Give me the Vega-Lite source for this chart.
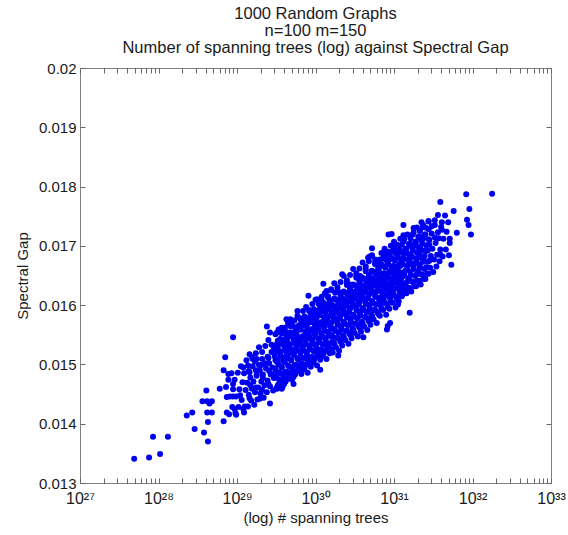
{
"$schema": "https://vega.github.io/schema/vega-lite/v6.json",
"width": 471, "height": 415,
"autosize": {"type": "none"},
"padding": {"left": 80, "top": 68, "right": 17, "bottom": 52},
"background": "white",
"title": {"text": ["1000 Random Graphs", "n=100 m=150", "Number of spanning trees (log) against Spectral Gap"], "font": "Liberation Sans", "fontSize": 16.5, "fontWeight": "normal", "color": "#1a1a1a", "lineHeight": 17, "offset": 5, "anchor": "middle"},
"config": {
  "view": {"stroke": "#808080", "strokeWidth": 1},
  "axis": {"grid": false, "domain": false, "tickColor": "#666666", "tickSize": -5, "labelFont": "Liberation Sans", "labelFontSize": 15, "labelColor": "#1a1a1a", "titleFont": "Liberation Sans", "titleFontSize": 15, "titleFontWeight": "normal", "titleColor": "#1a1a1a", "labelOverlap": false, "labelFlush": false}
},
"data": {"values": [
{"logT":27.69,"gap":0.01341},{"logT":27.88,"gap":0.01343},{"logT":28.02,"gap":0.01349},{"logT":27.93,"gap":0.01378},{"logT":28.12,"gap":0.01378},{"logT":28.46,"gap":0.01391},{"logT":28.63,"gap":0.0137},{"logT":28.58,"gap":0.01385},{"logT":28.63,"gap":0.01403},{"logT":28.36,"gap":0.01414},{"logT":28.43,"gap":0.01419},{"logT":28.62,"gap":0.01419},{"logT":28.68,"gap":0.01419},{"logT":28.83,"gap":0.01404},{"logT":28.87,"gap":0.01419},{"logT":28.56,"gap":0.01438},{"logT":28.62,"gap":0.01438},{"logT":28.68,"gap":0.01438},{"logT":28.65,"gap":0.01434},{"logT":28.61,"gap":0.01456},{"logT":28.78,"gap":0.01459},{"logT":28.86,"gap":0.01462},{"logT":28.87,"gap":0.01445},{"logT":28.83,"gap":0.0149},{"logT":28.89,"gap":0.01484},{"logT":28.95,"gap":0.01546},{"logT":28.85,"gap":0.01512},{"logT":28.99,"gap":0.01415},{"logT":29.09,"gap":0.01419},{"logT":29.42,"gap":0.01434},{"logT":29.38,"gap":0.01564},{"logT":29.91,"gap":0.01616},{"logT":29.42,"gap":0.01554},{"logT":29.51,"gap":0.01554},{"logT":29.61,"gap":0.01557},{"logT":29.77,"gap":0.0159},{"logT":29.68,"gap":0.01576},{"logT":29.7,"gap":0.01568},{"logT":29.19,"gap":0.01512},{"logT":29.25,"gap":0.01509},{"logT":29.08,"gap":0.01495},{"logT":29.14,"gap":0.01498},{"logT":28.95,"gap":0.01467},{"logT":29.04,"gap":0.01448},{"logT":28.95,"gap":0.01446},{"logT":28.97,"gap":0.01425},{"logT":29.08,"gap":0.01425},{"logT":29.29,"gap":0.01442},{"logT":29.51,"gap":0.01459},{"logT":29.57,"gap":0.01459},{"logT":29.72,"gap":0.01467},{"logT":30.34,"gap":0.01652},{"logT":30.1,"gap":0.01636},{"logT":30.14,"gap":0.01624},{"logT":30.02,"gap":0.0161},{"logT":30.08,"gap":0.01607},{"logT":30.25,"gap":0.01621},{"logT":30.31,"gap":0.01621},{"logT":30.44,"gap":0.01635},{"logT":30.57,"gap":0.01649},{"logT":30.69,"gap":0.01682},{"logT":30.82,"gap":0.01677},{"logT":29.63,"gap":0.01576},{"logT":29.68,"gap":0.01565},{"logT":29.57,"gap":0.01562},{"logT":30.91,"gap":0.01559},{"logT":30.61,"gap":0.01546},{"logT":30.29,"gap":0.01515},{"logT":30.06,"gap":0.01491},{"logT":31.59,"gap":0.01774},{"logT":31.76,"gap":0.01759},{"logT":31.93,"gap":0.01744},{"logT":31.12,"gap":0.01735},{"logT":31.35,"gap":0.0174},{"logT":31.44,"gap":0.01742},{"logT":31.52,"gap":0.01735},{"logT":31.61,"gap":0.01727},{"logT":31.25,"gap":0.0173},{"logT":30.93,"gap":0.01719},{"logT":30.97,"gap":0.0172},{"logT":30.72,"gap":0.01696},{"logT":30.99,"gap":0.01702},{"logT":31.71,"gap":0.01705},{"logT":31.8,"gap":0.01722},{"logT":31.73,"gap":0.01668},{"logT":30.67,"gap":0.0168},{"logT":30.89,"gap":0.01688},{"logT":31.59,"gap":0.01685},{"logT":31.08,"gap":0.01624},{"logT":31.2,"gap":0.01587},{"logT":31.05,"gap":0.01601},{"logT":32.25,"gap":0.01788},{"logT":31.92,"gap":0.01787},{"logT":31.96,"gap":0.01762},{"logT":31.95,"gap":0.01735},{"logT":31.98,"gap":0.01719},{"logT":30.92,"gap":0.01565},{"logT":30.95,"gap":0.0157},
{"logT":28.9,"gap":0.01416},{"logT":28.91,"gap":0.01446},{"logT":28.89,"gap":0.01474},
{"logT":28.94,"gap":0.01428},{"logT":28.95,"gap":0.01458},{"logT":28.93,"gap":0.01485},
{"logT":28.98,"gap":0.01418},{"logT":28.99,"gap":0.01446},{"logT":28.97,"gap":0.01474},
{"logT":29.02,"gap":0.01428},{"logT":29.03,"gap":0.01458},{"logT":29.01,"gap":0.01486},
{"logT":29.06,"gap":0.0144},{"logT":29.07,"gap":0.0147},{"logT":29.05,"gap":0.01497},
{"logT":29.1,"gap":0.01429},{"logT":29.11,"gap":0.01457},{"logT":29.09,"gap":0.01485},
{"logT":29.14,"gap":0.01429},{"logT":29.15,"gap":0.01449},{"logT":29.13,"gap":0.01469},{"logT":29.16,"gap":0.01487},{"logT":29.12,"gap":0.01507},
{"logT":29.18,"gap":0.01439},{"logT":29.19,"gap":0.01459},{"logT":29.17,"gap":0.01478},{"logT":29.2,"gap":0.01497},{"logT":29.16,"gap":0.01517},
{"logT":29.22,"gap":0.01432},{"logT":29.23,"gap":0.01453},{"logT":29.21,"gap":0.01471},{"logT":29.24,"gap":0.0149},{"logT":29.2,"gap":0.01509},
{"logT":29.26,"gap":0.01441},{"logT":29.27,"gap":0.01461},{"logT":29.25,"gap":0.01481},{"logT":29.28,"gap":0.01499},{"logT":29.24,"gap":0.01519},
{"logT":29.3,"gap":0.01451},{"logT":29.31,"gap":0.01471},{"logT":29.29,"gap":0.0149},{"logT":29.32,"gap":0.01509},{"logT":29.28,"gap":0.01529},
{"logT":29.34,"gap":0.01444},{"logT":29.35,"gap":0.01465},{"logT":29.33,"gap":0.01483},{"logT":29.36,"gap":0.01502},{"logT":29.32,"gap":0.01521},
{"logT":29.38,"gap":0.01453},{"logT":29.39,"gap":0.01473},{"logT":29.37,"gap":0.01493},{"logT":29.4,"gap":0.01511},{"logT":29.36,"gap":0.01531},
{"logT":29.42,"gap":0.01463},{"logT":29.43,"gap":0.01483},{"logT":29.41,"gap":0.01502},{"logT":29.44,"gap":0.01521},{"logT":29.4,"gap":0.01541},
{"logT":29.46,"gap":0.01456},{"logT":29.47,"gap":0.01477},{"logT":29.45,"gap":0.01495},{"logT":29.48,"gap":0.01514},{"logT":29.44,"gap":0.01533},
{"logT":29.5,"gap":0.0146},{"logT":29.51,"gap":0.01477},{"logT":29.49,"gap":0.01493},{"logT":29.52,"gap":0.01507},{"logT":29.48,"gap":0.0152},{"logT":29.51,"gap":0.01535},{"logT":29.49,"gap":0.01551},
{"logT":29.54,"gap":0.01469},{"logT":29.55,"gap":0.01485},{"logT":29.53,"gap":0.015},{"logT":29.56,"gap":0.01514},{"logT":29.52,"gap":0.01528},{"logT":29.55,"gap":0.01543},{"logT":29.53,"gap":0.01559},
{"logT":29.58,"gap":0.01462},{"logT":29.59,"gap":0.01479},{"logT":29.57,"gap":0.01495},{"logT":29.6,"gap":0.01509},{"logT":29.56,"gap":0.01522},{"logT":29.59,"gap":0.01537},{"logT":29.57,"gap":0.01552},
{"logT":29.62,"gap":0.01471},{"logT":29.63,"gap":0.01488},{"logT":29.61,"gap":0.01504},{"logT":29.64,"gap":0.01518},{"logT":29.6,"gap":0.01531},{"logT":29.63,"gap":0.01546},{"logT":29.61,"gap":0.01562},
{"logT":29.66,"gap":0.0148},{"logT":29.67,"gap":0.01496},{"logT":29.65,"gap":0.01511},{"logT":29.68,"gap":0.01525},{"logT":29.64,"gap":0.01539},{"logT":29.67,"gap":0.01554},{"logT":29.65,"gap":0.0157},
{"logT":29.7,"gap":0.01474},{"logT":29.71,"gap":0.01491},{"logT":29.69,"gap":0.01507},{"logT":29.72,"gap":0.01521},{"logT":29.68,"gap":0.01534},{"logT":29.71,"gap":0.01549},{"logT":29.69,"gap":0.01564},
{"logT":29.74,"gap":0.01483},{"logT":29.75,"gap":0.015},{"logT":29.73,"gap":0.01516},{"logT":29.76,"gap":0.0153},{"logT":29.72,"gap":0.01543},{"logT":29.75,"gap":0.01558},{"logT":29.73,"gap":0.01574},
{"logT":29.78,"gap":0.01492},{"logT":29.79,"gap":0.01508},{"logT":29.77,"gap":0.01523},{"logT":29.8,"gap":0.01537},{"logT":29.76,"gap":0.01551},{"logT":29.79,"gap":0.01566},{"logT":29.77,"gap":0.01582},
{"logT":29.82,"gap":0.01484},{"logT":29.83,"gap":0.01501},{"logT":29.81,"gap":0.01514},{"logT":29.84,"gap":0.01526},{"logT":29.8,"gap":0.01536},{"logT":29.83,"gap":0.01547},{"logT":29.81,"gap":0.01559},{"logT":29.82,"gap":0.01573},{"logT":29.84,"gap":0.0159},
{"logT":29.86,"gap":0.01494},{"logT":29.87,"gap":0.0151},{"logT":29.85,"gap":0.01523},{"logT":29.88,"gap":0.01534},{"logT":29.84,"gap":0.01545},{"logT":29.87,"gap":0.01556},{"logT":29.85,"gap":0.01568},{"logT":29.86,"gap":0.01581},{"logT":29.88,"gap":0.01597},
{"logT":29.9,"gap":0.01486},{"logT":29.91,"gap":0.01504},{"logT":29.89,"gap":0.01518},{"logT":29.92,"gap":0.01531},{"logT":29.88,"gap":0.01542},{"logT":29.91,"gap":0.01553},{"logT":29.89,"gap":0.01565},{"logT":29.9,"gap":0.01578},{"logT":29.92,"gap":0.01592},
{"logT":29.94,"gap":0.01496},{"logT":29.95,"gap":0.01513},{"logT":29.93,"gap":0.01526},{"logT":29.96,"gap":0.01538},{"logT":29.92,"gap":0.01548},{"logT":29.95,"gap":0.01559},{"logT":29.93,"gap":0.01571},{"logT":29.94,"gap":0.01585},{"logT":29.96,"gap":0.01602},
{"logT":29.98,"gap":0.01506},{"logT":29.99,"gap":0.01522},{"logT":29.97,"gap":0.01535},{"logT":30.0,"gap":0.01546},{"logT":29.96,"gap":0.01557},{"logT":29.99,"gap":0.01568},{"logT":29.97,"gap":0.0158},{"logT":29.98,"gap":0.01593},{"logT":30.0,"gap":0.01609},
{"logT":30.02,"gap":0.01498},{"logT":30.03,"gap":0.01516},{"logT":30.01,"gap":0.0153},{"logT":30.04,"gap":0.01543},{"logT":30.0,"gap":0.01554},{"logT":30.03,"gap":0.01565},{"logT":30.01,"gap":0.01577},{"logT":30.02,"gap":0.0159},{"logT":30.04,"gap":0.01604},
{"logT":30.06,"gap":0.01508},{"logT":30.07,"gap":0.01525},{"logT":30.05,"gap":0.01538},{"logT":30.08,"gap":0.0155},{"logT":30.04,"gap":0.0156},{"logT":30.07,"gap":0.01571},{"logT":30.05,"gap":0.01583},{"logT":30.06,"gap":0.01597},{"logT":30.08,"gap":0.01614},
{"logT":30.1,"gap":0.01517},{"logT":30.11,"gap":0.01533},{"logT":30.09,"gap":0.01546},{"logT":30.12,"gap":0.01557},{"logT":30.08,"gap":0.01568},{"logT":30.11,"gap":0.01579},{"logT":30.09,"gap":0.01591},{"logT":30.1,"gap":0.01604},{"logT":30.12,"gap":0.0162},
{"logT":30.14,"gap":0.01509},{"logT":30.15,"gap":0.01527},{"logT":30.13,"gap":0.01541},{"logT":30.16,"gap":0.01554},{"logT":30.12,"gap":0.01565},{"logT":30.15,"gap":0.01576},{"logT":30.13,"gap":0.01588},{"logT":30.14,"gap":0.01601},{"logT":30.16,"gap":0.01615},
{"logT":30.18,"gap":0.01519},{"logT":30.19,"gap":0.01536},{"logT":30.17,"gap":0.01549},{"logT":30.2,"gap":0.01561},{"logT":30.16,"gap":0.01571},{"logT":30.19,"gap":0.01582},{"logT":30.17,"gap":0.01594},{"logT":30.18,"gap":0.01608},{"logT":30.2,"gap":0.01625},
{"logT":30.22,"gap":0.0152},{"logT":30.23,"gap":0.01537},{"logT":30.21,"gap":0.01549},{"logT":30.24,"gap":0.0156},{"logT":30.2,"gap":0.0157},{"logT":30.23,"gap":0.01579},{"logT":30.21,"gap":0.01588},{"logT":30.22,"gap":0.01599},{"logT":30.24,"gap":0.01611},{"logT":30.2,"gap":0.01627},
{"logT":30.26,"gap":0.01529},{"logT":30.27,"gap":0.01545},{"logT":30.25,"gap":0.01557},{"logT":30.28,"gap":0.01568},{"logT":30.24,"gap":0.01578},{"logT":30.27,"gap":0.01588},{"logT":30.25,"gap":0.01598},{"logT":30.26,"gap":0.01609},{"logT":30.28,"gap":0.01622},{"logT":30.24,"gap":0.01637},
{"logT":30.3,"gap":0.01523},{"logT":30.31,"gap":0.01541},{"logT":30.29,"gap":0.01554},{"logT":30.32,"gap":0.01565},{"logT":30.28,"gap":0.01575},{"logT":30.31,"gap":0.01584},{"logT":30.29,"gap":0.01594},{"logT":30.3,"gap":0.01604},{"logT":30.32,"gap":0.01616},{"logT":30.28,"gap":0.0163},
{"logT":30.34,"gap":0.01532},{"logT":30.35,"gap":0.01549},{"logT":30.33,"gap":0.01561},{"logT":30.36,"gap":0.01572},{"logT":30.32,"gap":0.01582},{"logT":30.35,"gap":0.01591},{"logT":30.33,"gap":0.016},{"logT":30.34,"gap":0.01611},{"logT":30.36,"gap":0.01623},{"logT":30.32,"gap":0.01639},
{"logT":30.38,"gap":0.01541},{"logT":30.39,"gap":0.01557},{"logT":30.37,"gap":0.01569},{"logT":30.4,"gap":0.0158},{"logT":30.36,"gap":0.0159},{"logT":30.39,"gap":0.016},{"logT":30.37,"gap":0.0161},{"logT":30.38,"gap":0.01621},{"logT":30.4,"gap":0.01634},{"logT":30.36,"gap":0.01649},
{"logT":30.42,"gap":0.01535},{"logT":30.43,"gap":0.01553},{"logT":30.41,"gap":0.01566},{"logT":30.44,"gap":0.01577},{"logT":30.4,"gap":0.01587},{"logT":30.43,"gap":0.01596},{"logT":30.41,"gap":0.01606},{"logT":30.42,"gap":0.01616},{"logT":30.44,"gap":0.01628},{"logT":30.4,"gap":0.01642},
{"logT":30.46,"gap":0.01544},{"logT":30.47,"gap":0.01561},{"logT":30.45,"gap":0.01573},{"logT":30.48,"gap":0.01584},{"logT":30.44,"gap":0.01594},{"logT":30.47,"gap":0.01603},{"logT":30.45,"gap":0.01612},{"logT":30.46,"gap":0.01623},{"logT":30.48,"gap":0.01635},{"logT":30.44,"gap":0.01651},
{"logT":30.5,"gap":0.01553},{"logT":30.51,"gap":0.01569},{"logT":30.49,"gap":0.01581},{"logT":30.52,"gap":0.01592},{"logT":30.48,"gap":0.01602},{"logT":30.51,"gap":0.01612},{"logT":30.49,"gap":0.01622},{"logT":30.5,"gap":0.01633},{"logT":30.52,"gap":0.01646},{"logT":30.48,"gap":0.01661},
{"logT":30.54,"gap":0.01547},{"logT":30.55,"gap":0.01565},{"logT":30.53,"gap":0.01578},{"logT":30.56,"gap":0.01589},{"logT":30.52,"gap":0.01599},{"logT":30.55,"gap":0.01608},{"logT":30.53,"gap":0.01618},{"logT":30.54,"gap":0.01628},{"logT":30.56,"gap":0.0164},{"logT":30.52,"gap":0.01654},
{"logT":30.58,"gap":0.01555},{"logT":30.59,"gap":0.01572},{"logT":30.57,"gap":0.01584},{"logT":30.6,"gap":0.01595},{"logT":30.56,"gap":0.01605},{"logT":30.59,"gap":0.01614},{"logT":30.57,"gap":0.01623},{"logT":30.58,"gap":0.01634},{"logT":30.6,"gap":0.01646},{"logT":30.56,"gap":0.01662},
{"logT":30.62,"gap":0.01564},{"logT":30.63,"gap":0.0158},{"logT":30.61,"gap":0.01592},{"logT":30.64,"gap":0.01603},{"logT":30.6,"gap":0.01613},{"logT":30.63,"gap":0.01623},{"logT":30.61,"gap":0.01633},{"logT":30.62,"gap":0.01644},{"logT":30.64,"gap":0.01657},{"logT":30.6,"gap":0.01672},
{"logT":30.66,"gap":0.01558},{"logT":30.67,"gap":0.01576},{"logT":30.65,"gap":0.01589},{"logT":30.68,"gap":0.016},{"logT":30.64,"gap":0.0161},{"logT":30.67,"gap":0.01619},{"logT":30.65,"gap":0.01629},{"logT":30.66,"gap":0.01639},{"logT":30.68,"gap":0.01651},{"logT":30.64,"gap":0.01665},
{"logT":30.7,"gap":0.01567},{"logT":30.71,"gap":0.01584},{"logT":30.69,"gap":0.01596},{"logT":30.72,"gap":0.01607},{"logT":30.68,"gap":0.01617},{"logT":30.71,"gap":0.01626},{"logT":30.69,"gap":0.01635},{"logT":30.7,"gap":0.01646},{"logT":30.72,"gap":0.01658},{"logT":30.68,"gap":0.01674},
{"logT":30.74,"gap":0.01576},{"logT":30.75,"gap":0.01592},{"logT":30.73,"gap":0.01604},{"logT":30.76,"gap":0.01615},{"logT":30.72,"gap":0.01625},{"logT":30.75,"gap":0.01635},{"logT":30.73,"gap":0.01645},{"logT":30.74,"gap":0.01656},{"logT":30.76,"gap":0.01669},{"logT":30.72,"gap":0.01684},
{"logT":30.78,"gap":0.0157},{"logT":30.79,"gap":0.01588},{"logT":30.77,"gap":0.01601},{"logT":30.8,"gap":0.01612},{"logT":30.76,"gap":0.01622},{"logT":30.79,"gap":0.01631},{"logT":30.77,"gap":0.01641},{"logT":30.78,"gap":0.01651},{"logT":30.8,"gap":0.01663},{"logT":30.76,"gap":0.01677},
{"logT":30.82,"gap":0.01582},{"logT":30.83,"gap":0.01599},{"logT":30.81,"gap":0.01612},{"logT":30.84,"gap":0.01624},{"logT":30.8,"gap":0.01634},{"logT":30.83,"gap":0.01645},{"logT":30.81,"gap":0.01657},{"logT":30.82,"gap":0.01671},{"logT":30.84,"gap":0.01688},
{"logT":30.86,"gap":0.01592},{"logT":30.87,"gap":0.01608},{"logT":30.85,"gap":0.01621},{"logT":30.88,"gap":0.01632},{"logT":30.84,"gap":0.01643},{"logT":30.87,"gap":0.01654},{"logT":30.85,"gap":0.01666},{"logT":30.86,"gap":0.01679},{"logT":30.88,"gap":0.01695},
{"logT":30.9,"gap":0.01584},{"logT":30.91,"gap":0.01602},{"logT":30.89,"gap":0.01616},{"logT":30.92,"gap":0.01629},{"logT":30.88,"gap":0.0164},{"logT":30.91,"gap":0.01651},{"logT":30.89,"gap":0.01663},{"logT":30.9,"gap":0.01676},{"logT":30.92,"gap":0.0169},
{"logT":30.94,"gap":0.01594},{"logT":30.95,"gap":0.01611},{"logT":30.93,"gap":0.01624},{"logT":30.96,"gap":0.01636},{"logT":30.92,"gap":0.01646},{"logT":30.95,"gap":0.01657},{"logT":30.93,"gap":0.01669},{"logT":30.94,"gap":0.01683},{"logT":30.96,"gap":0.017},
{"logT":30.98,"gap":0.01604},{"logT":30.99,"gap":0.0162},{"logT":30.97,"gap":0.01633},{"logT":31.0,"gap":0.01644},{"logT":30.96,"gap":0.01655},{"logT":30.99,"gap":0.01666},{"logT":30.97,"gap":0.01678},{"logT":30.98,"gap":0.01691},{"logT":31.0,"gap":0.01707},
{"logT":31.02,"gap":0.01596},{"logT":31.03,"gap":0.01614},{"logT":31.01,"gap":0.01628},{"logT":31.04,"gap":0.01641},{"logT":31.0,"gap":0.01652},{"logT":31.03,"gap":0.01663},{"logT":31.01,"gap":0.01675},{"logT":31.02,"gap":0.01688},{"logT":31.04,"gap":0.01702},
{"logT":31.06,"gap":0.01606},{"logT":31.07,"gap":0.01623},{"logT":31.05,"gap":0.01636},{"logT":31.08,"gap":0.01648},{"logT":31.04,"gap":0.01658},{"logT":31.07,"gap":0.01669},{"logT":31.05,"gap":0.01681},{"logT":31.06,"gap":0.01695},{"logT":31.08,"gap":0.01712},
{"logT":31.1,"gap":0.01615},{"logT":31.11,"gap":0.01631},{"logT":31.09,"gap":0.01644},{"logT":31.12,"gap":0.01655},{"logT":31.08,"gap":0.01666},{"logT":31.11,"gap":0.01677},{"logT":31.09,"gap":0.01689},{"logT":31.1,"gap":0.01702},{"logT":31.12,"gap":0.01718},
{"logT":31.14,"gap":0.0162},{"logT":31.15,"gap":0.01637},{"logT":31.13,"gap":0.01653},{"logT":31.16,"gap":0.01667},{"logT":31.12,"gap":0.0168},{"logT":31.15,"gap":0.01695},{"logT":31.13,"gap":0.01711},
{"logT":31.18,"gap":0.01629},{"logT":31.19,"gap":0.01645},{"logT":31.17,"gap":0.0166},{"logT":31.2,"gap":0.01674},{"logT":31.16,"gap":0.01688},{"logT":31.19,"gap":0.01703},{"logT":31.17,"gap":0.01719},
{"logT":31.22,"gap":0.01623},{"logT":31.23,"gap":0.0164},{"logT":31.21,"gap":0.01656},{"logT":31.24,"gap":0.0167},{"logT":31.2,"gap":0.01683},{"logT":31.23,"gap":0.01698},{"logT":31.21,"gap":0.01713},
{"logT":31.26,"gap":0.01632},{"logT":31.27,"gap":0.01649},{"logT":31.25,"gap":0.01665},{"logT":31.28,"gap":0.01679},{"logT":31.24,"gap":0.01692},{"logT":31.27,"gap":0.01707},{"logT":31.25,"gap":0.01723},
{"logT":31.3,"gap":0.01641},{"logT":31.31,"gap":0.01657},{"logT":31.29,"gap":0.01672},{"logT":31.32,"gap":0.01686},{"logT":31.28,"gap":0.017},{"logT":31.31,"gap":0.01715},{"logT":31.29,"gap":0.01731},
{"logT":31.34,"gap":0.01635},{"logT":31.35,"gap":0.01652},{"logT":31.33,"gap":0.01668},{"logT":31.36,"gap":0.01682},{"logT":31.32,"gap":0.01695},{"logT":31.35,"gap":0.0171},{"logT":31.33,"gap":0.01725},
{"logT":31.38,"gap":0.01644},{"logT":31.39,"gap":0.01661},{"logT":31.37,"gap":0.01677},{"logT":31.4,"gap":0.01691},{"logT":31.36,"gap":0.01704},{"logT":31.39,"gap":0.01719},{"logT":31.37,"gap":0.01735},
{"logT":31.42,"gap":0.01653},{"logT":31.43,"gap":0.01673},{"logT":31.41,"gap":0.01693},{"logT":31.44,"gap":0.01711},{"logT":31.4,"gap":0.01731},
{"logT":31.46,"gap":0.01663},{"logT":31.47,"gap":0.01683},{"logT":31.45,"gap":0.01702},{"logT":31.48,"gap":0.01721},{"logT":31.44,"gap":0.01741},
{"logT":31.5,"gap":0.01656},{"logT":31.51,"gap":0.01677},{"logT":31.49,"gap":0.01695},{"logT":31.52,"gap":0.01714},{"logT":31.48,"gap":0.01733},
{"logT":31.54,"gap":0.01665},{"logT":31.55,"gap":0.01685},{"logT":31.53,"gap":0.01705},{"logT":31.56,"gap":0.01723},{"logT":31.52,"gap":0.01743},
{"logT":31.58,"gap":0.01674},{"logT":31.59,"gap":0.01694},{"logT":31.57,"gap":0.01713},{"logT":31.6,"gap":0.01732},{"logT":31.56,"gap":0.01752},
{"logT":31.62,"gap":0.01682},{"logT":31.63,"gap":0.01712},{"logT":31.61,"gap":0.0174},
{"logT":31.66,"gap":0.01694},{"logT":31.67,"gap":0.01724},{"logT":31.65,"gap":0.01751},
{"logT":31.7,"gap":0.01684},{"logT":31.71,"gap":0.01712},{"logT":31.69,"gap":0.0174},
{"logT":29.16,"gap":0.01443},{"logT":29.17,"gap":0.01465},{"logT":29.15,"gap":0.01489},
{"logT":29.24,"gap":0.01461},{"logT":29.25,"gap":0.01483},{"logT":29.23,"gap":0.01505},
{"logT":29.32,"gap":0.01457},{"logT":29.33,"gap":0.01477},{"logT":29.31,"gap":0.01499},
{"logT":29.4,"gap":0.01467},{"logT":29.41,"gap":0.01489},{"logT":29.39,"gap":0.01513},
{"logT":29.48,"gap":0.01485},{"logT":29.49,"gap":0.01507},{"logT":29.47,"gap":0.01529},
{"logT":29.52,"gap":0.01465},{"logT":29.53,"gap":0.01487},{"logT":29.51,"gap":0.01504},{"logT":29.53,"gap":0.01522},{"logT":29.52,"gap":0.0154},
{"logT":29.56,"gap":0.01474},{"logT":29.57,"gap":0.01496},{"logT":29.55,"gap":0.01516},{"logT":29.57,"gap":0.01535},{"logT":29.56,"gap":0.01554},
{"logT":29.6,"gap":0.01467},{"logT":29.61,"gap":0.01487},{"logT":29.59,"gap":0.01506},{"logT":29.61,"gap":0.01524},{"logT":29.6,"gap":0.01542},
{"logT":29.64,"gap":0.01476},{"logT":29.65,"gap":0.01498},{"logT":29.63,"gap":0.01515},{"logT":29.65,"gap":0.01533},{"logT":29.64,"gap":0.01551},
{"logT":29.68,"gap":0.01486},{"logT":29.69,"gap":0.01508},{"logT":29.67,"gap":0.01528},{"logT":29.69,"gap":0.01547},{"logT":29.68,"gap":0.01566},
{"logT":29.72,"gap":0.01479},{"logT":29.73,"gap":0.01499},{"logT":29.71,"gap":0.01518},{"logT":29.73,"gap":0.01536},{"logT":29.72,"gap":0.01554},
{"logT":29.76,"gap":0.01488},{"logT":29.77,"gap":0.0151},{"logT":29.75,"gap":0.01527},{"logT":29.77,"gap":0.01545},{"logT":29.76,"gap":0.01563},
{"logT":29.8,"gap":0.01498},{"logT":29.81,"gap":0.0152},{"logT":29.79,"gap":0.0154},{"logT":29.81,"gap":0.01559},{"logT":29.8,"gap":0.01578},
{"logT":29.84,"gap":0.01491},{"logT":29.85,"gap":0.01511},{"logT":29.83,"gap":0.0153},{"logT":29.85,"gap":0.01548},{"logT":29.84,"gap":0.01566},
{"logT":29.88,"gap":0.015},{"logT":29.89,"gap":0.01522},{"logT":29.87,"gap":0.01539},{"logT":29.89,"gap":0.01557},{"logT":29.88,"gap":0.01575},
{"logT":29.92,"gap":0.0151},{"logT":29.93,"gap":0.01532},{"logT":29.91,"gap":0.01552},{"logT":29.93,"gap":0.01571},{"logT":29.92,"gap":0.0159},
{"logT":29.96,"gap":0.01503},{"logT":29.97,"gap":0.01523},{"logT":29.95,"gap":0.01542},{"logT":29.97,"gap":0.0156},{"logT":29.96,"gap":0.01578},
{"logT":30.0,"gap":0.01512},{"logT":30.01,"gap":0.01534},{"logT":29.99,"gap":0.01551},{"logT":30.01,"gap":0.01569},{"logT":30.0,"gap":0.01587},
{"logT":30.04,"gap":0.01522},{"logT":30.05,"gap":0.01544},{"logT":30.03,"gap":0.01564},{"logT":30.05,"gap":0.01583},{"logT":30.04,"gap":0.01602},
{"logT":30.08,"gap":0.01514},{"logT":30.09,"gap":0.01534},{"logT":30.07,"gap":0.01553},{"logT":30.09,"gap":0.01571},{"logT":30.08,"gap":0.01589},
{"logT":30.12,"gap":0.01523},{"logT":30.13,"gap":0.01545},{"logT":30.11,"gap":0.01562},{"logT":30.13,"gap":0.0158},{"logT":30.12,"gap":0.01598},
{"logT":30.16,"gap":0.01533},{"logT":30.17,"gap":0.01555},{"logT":30.15,"gap":0.01575},{"logT":30.17,"gap":0.01594},{"logT":30.16,"gap":0.01613},
{"logT":30.2,"gap":0.01526},{"logT":30.21,"gap":0.01546},{"logT":30.19,"gap":0.01565},{"logT":30.21,"gap":0.01583},{"logT":30.2,"gap":0.01601},
{"logT":30.24,"gap":0.01535},{"logT":30.25,"gap":0.01557},{"logT":30.23,"gap":0.01574},{"logT":30.25,"gap":0.01592},{"logT":30.24,"gap":0.0161},
{"logT":30.28,"gap":0.01545},{"logT":30.29,"gap":0.01567},{"logT":30.27,"gap":0.01587},{"logT":30.29,"gap":0.01606},{"logT":30.28,"gap":0.01625},
{"logT":30.32,"gap":0.01538},{"logT":30.33,"gap":0.01558},{"logT":30.31,"gap":0.01577},{"logT":30.33,"gap":0.01595},{"logT":30.32,"gap":0.01613},
{"logT":30.36,"gap":0.01547},{"logT":30.37,"gap":0.01569},{"logT":30.35,"gap":0.01586},{"logT":30.37,"gap":0.01604},{"logT":30.36,"gap":0.01622},
{"logT":30.4,"gap":0.01557},{"logT":30.41,"gap":0.01579},{"logT":30.39,"gap":0.01599},{"logT":30.41,"gap":0.01618},{"logT":30.4,"gap":0.01637},
{"logT":30.44,"gap":0.0155},{"logT":30.45,"gap":0.0157},{"logT":30.43,"gap":0.01589},{"logT":30.45,"gap":0.01607},{"logT":30.44,"gap":0.01625},
{"logT":30.48,"gap":0.01559},{"logT":30.49,"gap":0.01581},{"logT":30.47,"gap":0.01598},{"logT":30.49,"gap":0.01616},{"logT":30.48,"gap":0.01634},
{"logT":30.52,"gap":0.01569},{"logT":30.53,"gap":0.01591},{"logT":30.51,"gap":0.01611},{"logT":30.53,"gap":0.0163},{"logT":30.52,"gap":0.01649},
{"logT":30.56,"gap":0.01562},{"logT":30.57,"gap":0.01582},{"logT":30.55,"gap":0.01601},{"logT":30.57,"gap":0.01619},{"logT":30.56,"gap":0.01637},
{"logT":30.6,"gap":0.0157},{"logT":30.61,"gap":0.01592},{"logT":30.59,"gap":0.01609},{"logT":30.61,"gap":0.01627},{"logT":30.6,"gap":0.01645},
{"logT":30.64,"gap":0.0158},{"logT":30.65,"gap":0.01602},{"logT":30.63,"gap":0.01622},{"logT":30.65,"gap":0.01641},{"logT":30.64,"gap":0.0166},
{"logT":30.68,"gap":0.01573},{"logT":30.69,"gap":0.01593},{"logT":30.67,"gap":0.01612},{"logT":30.69,"gap":0.0163},{"logT":30.68,"gap":0.01648},
{"logT":30.72,"gap":0.01582},{"logT":30.73,"gap":0.01604},{"logT":30.71,"gap":0.01621},{"logT":30.73,"gap":0.01639},{"logT":30.72,"gap":0.01657},
{"logT":30.76,"gap":0.01592},{"logT":30.77,"gap":0.01614},{"logT":30.75,"gap":0.01634},{"logT":30.77,"gap":0.01653},{"logT":30.76,"gap":0.01672},
{"logT":30.8,"gap":0.01585},{"logT":30.81,"gap":0.01605},{"logT":30.79,"gap":0.01624},{"logT":30.81,"gap":0.01642},{"logT":30.8,"gap":0.0166},
{"logT":30.84,"gap":0.01594},{"logT":30.85,"gap":0.01616},{"logT":30.83,"gap":0.01633},{"logT":30.85,"gap":0.01651},{"logT":30.84,"gap":0.01669},
{"logT":30.88,"gap":0.01604},{"logT":30.89,"gap":0.01626},{"logT":30.87,"gap":0.01646},{"logT":30.89,"gap":0.01665},{"logT":30.88,"gap":0.01684},
{"logT":30.92,"gap":0.01597},{"logT":30.93,"gap":0.01617},{"logT":30.91,"gap":0.01636},{"logT":30.93,"gap":0.01654},{"logT":30.92,"gap":0.01672},
{"logT":30.96,"gap":0.01606},{"logT":30.97,"gap":0.01628},{"logT":30.95,"gap":0.01645},{"logT":30.97,"gap":0.01663},{"logT":30.96,"gap":0.01681},
{"logT":31.0,"gap":0.01616},{"logT":31.01,"gap":0.01638},{"logT":30.99,"gap":0.01658},{"logT":31.01,"gap":0.01677},{"logT":31.0,"gap":0.01696},
{"logT":31.04,"gap":0.01609},{"logT":31.05,"gap":0.01629},{"logT":31.03,"gap":0.01648},{"logT":31.05,"gap":0.01666},{"logT":31.04,"gap":0.01684},
{"logT":31.08,"gap":0.01617},{"logT":31.09,"gap":0.01639},{"logT":31.07,"gap":0.01656},{"logT":31.09,"gap":0.01674},{"logT":31.08,"gap":0.01692},
{"logT":31.12,"gap":0.01627},{"logT":31.13,"gap":0.01649},{"logT":31.11,"gap":0.01669},{"logT":31.13,"gap":0.01688},{"logT":31.12,"gap":0.01707},
{"logT":31.16,"gap":0.0162},{"logT":31.17,"gap":0.0164},{"logT":31.15,"gap":0.01659},{"logT":31.17,"gap":0.01677},{"logT":31.16,"gap":0.01695},
{"logT":31.2,"gap":0.01629},{"logT":31.21,"gap":0.01651},{"logT":31.19,"gap":0.01668},{"logT":31.21,"gap":0.01686},{"logT":31.2,"gap":0.01704},
{"logT":31.24,"gap":0.01639},{"logT":31.25,"gap":0.01661},{"logT":31.23,"gap":0.01681},{"logT":31.25,"gap":0.017},{"logT":31.24,"gap":0.01719},
{"logT":31.28,"gap":0.01632},{"logT":31.29,"gap":0.01652},{"logT":31.27,"gap":0.01671},{"logT":31.29,"gap":0.01689},{"logT":31.28,"gap":0.01707},
{"logT":31.32,"gap":0.01641},{"logT":31.33,"gap":0.01663},{"logT":31.31,"gap":0.0168},{"logT":31.33,"gap":0.01698},{"logT":31.32,"gap":0.01716},
{"logT":31.36,"gap":0.01651},{"logT":31.37,"gap":0.01673},{"logT":31.35,"gap":0.01693},{"logT":31.37,"gap":0.01712},{"logT":31.36,"gap":0.01731},
{"logT":31.4,"gap":0.01644},{"logT":31.41,"gap":0.01664},{"logT":31.39,"gap":0.01683},{"logT":31.41,"gap":0.01701},{"logT":31.4,"gap":0.01719},
{"logT":31.44,"gap":0.01653},{"logT":31.45,"gap":0.01675},{"logT":31.43,"gap":0.01692},{"logT":31.45,"gap":0.0171},{"logT":31.44,"gap":0.01728}
]},
"layer": [
  {"mark": {"type": "circle", "size": 36, "color": "#0000f0", "opacity": 1},
   "encoding": {
     "x": {"field": "logT", "type": "quantitative", "title": "(log) # spanning trees",
           "scale": {"domain": [27, 33], "nice": false, "zero": false},
           "axis": {"orient": "bottom", "values": [27,27.301,27.477,27.602,27.699,27.778,27.845,27.903,27.954,28,28.301,28.477,28.602,28.699,28.778,28.845,28.903,28.954,29,29.301,29.477,29.602,29.699,29.778,29.845,29.903,29.954,30,30.301,30.477,30.602,30.699,30.778,30.845,30.903,30.954,31,31.301,31.477,31.602,31.699,31.778,31.845,31.903,31.954,32,32.301,32.477,32.602,32.699,32.778,32.845,32.903,32.954,33],
                    "labelExpr": "datum.value == 27 ? '10²⁷' : datum.value == 28 ? '10²⁸' : datum.value == 29 ? '10²⁹' : datum.value == 30 ? '10³⁰' : datum.value == 31 ? '10³¹' : datum.value == 32 ? '10³²' : datum.value == 33 ? '10³³' : ''",
                    "labelFontSize": 16, "labelPadding": 12, "titlePadding": 4}},
     "y": {"field": "gap", "type": "quantitative", "title": "Spectral Gap",
           "scale": {"domain": [0.013, 0.02], "nice": false, "zero": false},
           "axis": {"orient": "left", "values": [0.013,0.014,0.015,0.016,0.017,0.018,0.019,0.02], "format": ".3~f", "labelPadding": 9, "titlePadding": 8}}
   }},
  {"mark": {"type": "circle", "opacity": 0},
   "encoding": {
     "x": {"field": "logT", "type": "quantitative",
           "axis": {"orient": "top", "title": null, "labels": false, "values": [27,27.301,27.477,27.602,27.699,27.778,27.845,27.903,27.954,28,28.301,28.477,28.602,28.699,28.778,28.845,28.903,28.954,29,29.301,29.477,29.602,29.699,29.778,29.845,29.903,29.954,30,30.301,30.477,30.602,30.699,30.778,30.845,30.903,30.954,31,31.301,31.477,31.602,31.699,31.778,31.845,31.903,31.954,32,32.301,32.477,32.602,32.699,32.778,32.845,32.903,32.954,33]}},
     "y": {"field": "gap", "type": "quantitative",
           "axis": {"orient": "right", "title": null, "labels": false, "values": [0.013,0.014,0.015,0.016,0.017,0.018,0.019,0.02]}}
   }}
],
"resolve": {"axis": {"x": "independent", "y": "independent"}}
}
